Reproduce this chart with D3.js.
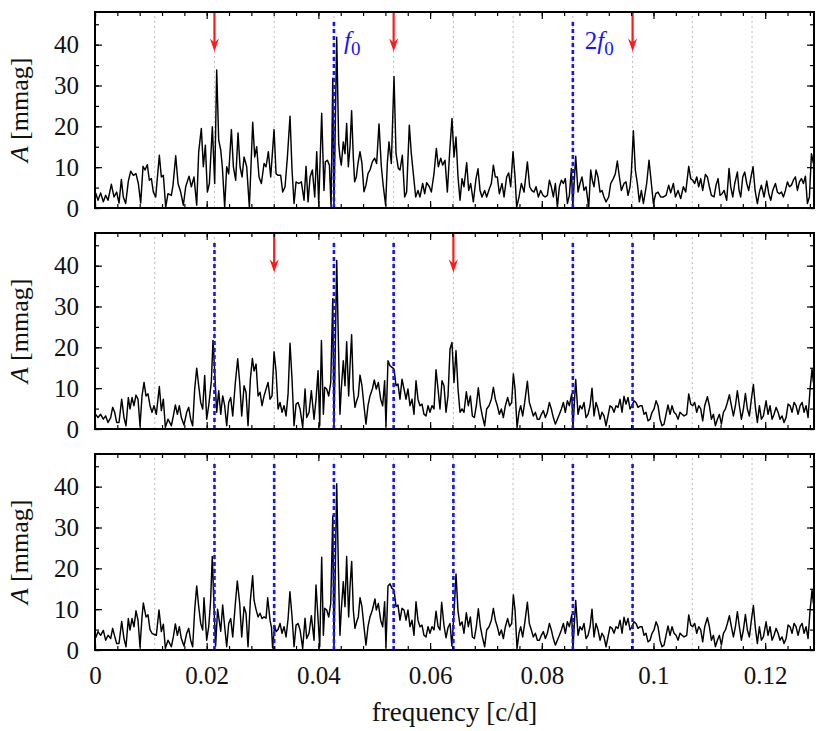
<!DOCTYPE html>
<html><head><meta charset="utf-8">
<script src="https://cdn.jsdelivr.net/npm/d3@7"></script>
<style>body{margin:0;background:#fff}</style>
</head><body>
<svg id="c" width="830" height="731"></svg>
<script>
// ---------- DATA ----------
const baseFreq = 0.010695;            // f0 / 4
const gridHarmonics = [1,2,3,4,5,6,7,8,9,10,11];
const blueHarmonics = [[4,8],[2,4,5,8,9],[2,3,4,5,6,8,9]];
const arrowHarmonics = [[2,5,9],[3,6],[]];
const xTickValues = [0,0.02,0.04,0.06,0.08,0.1,0.12];
const xTickLabels = ["0","0.02","0.04","0.06","0.08","0.1","0.12"];
const yTickValues = [0,10,20,30,40];
const yTickLabels = ["0","10","20","30","40"];

const panel1 = [
[0.00012,3.7],[0.00054,1.9],[0.00101,3.7],[0.00149,1.5],[0.00191,3.1],[0.00233,1.9],[0.00293,5.8],[0.0034,2.7],[0.00388,3.9],[0.0043,1.2],
[0.00472,7.0],[0.00507,2.7],[0.00549,1.1],[0.00597,6.6],[0.00639,9.0],[0.00687,8.0],[0.00734,8.4],[0.00776,6.0],[0.00818,1.2],[0.0086,10.2],
[0.00896,9.3],[0.00937,10.6],[0.00973,6.8],[0.01009,7.2],[0.01045,3.9],[0.01087,2.7],[0.01152,12.9],[0.01188,7.6],[0.01224,8.0],[0.01266,0.2],
[0.01307,3.5],[0.01367,3.1],[0.01397,5.6],[0.01445,12.8],[0.01487,6.0],[0.01534,3.9],[0.01582,0.7],[0.01624,5.2],[0.01684,7.8],[0.01725,5.2],
[0.01773,7.6],[0.01821,0.7],[0.01857,13.8],[0.01904,19.5],[0.0194,10.1],[0.01976,15.4],[0.02012,3.9],[0.02048,6.0],[0.02101,19.9],[0.02143,6.0],
[0.02179,33.8],[0.02215,16.6],[0.02251,14.2],[0.0228,10.1],[0.02322,0.2],[0.02358,10.1],[0.02394,8.4],[0.02442,19.2],[0.02478,10.1],[0.02519,6.8],
[0.02561,18.4],[0.02597,10.1],[0.02633,7.6],[0.02669,12.5],[0.02716,10.1],[0.02764,0.2],[0.02824,21.0],[0.0286,12.5],[0.02895,15.0],[0.02937,7.6],
[0.02979,6.0],[0.03027,10.9],[0.03063,10.1],[0.03104,13.8],[0.03146,7.6],[0.03206,19.2],[0.03242,8.4],[0.03278,8.0],[0.03325,8.0],[0.03361,3.9],
[0.03403,5.2],[0.03445,12.5],[0.03492,22.5],[0.03528,9.3],[0.03564,1.1],[0.036,6.4],[0.03648,6.0],[0.03695,6.4],[0.03743,1.9],[0.03779,10.2],
[0.03815,1.5],[0.03851,7.6],[0.03892,9.3],[0.03934,2.7],[0.0397,13.8],[0.04006,1.1],[0.04059,23.2],[0.041,4.3],[0.04124,11.3],[0.04161,11.7],
[0.04197,10.5],[0.04227,0.2],[0.04257,31.8],[0.04279,0.3],[0.04328,41.8],
[0.04363,15.8],[0.04386,12.5],[0.0441,10.5],[0.04446,16.2],[0.04476,13.3],[0.04506,20.7],[0.04536,10.1],[0.04566,15.0],[0.04595,23.8],[0.04625,12.5],
[0.04649,6.4],[0.04679,7.6],[0.04709,10.9],[0.04745,13.8],[0.0478,10.9],[0.04816,4.0],[0.04852,5.6],[0.04888,8.4],[0.04924,9.3],[0.04966,11.3],
[0.05007,12.2],[0.05043,10.9],[0.05085,20.6],[0.05127,10.1],[0.05163,5.2],[0.05204,0.7],[0.05234,10.9],[0.05264,16.2],[0.05306,10.9],[0.05354,32.2],
[0.0539,13.3],[0.05431,9.7],[0.05461,9.3],[0.05503,12.9],[0.05545,2.7],[0.0558,3.9],[0.05628,20.3],[0.05664,13.3],[0.057,8.4],[0.05742,2.7],
[0.05783,4.3],[0.05819,2.7],[0.05867,6.0],[0.05903,3.5],[0.05939,6.2],[0.05987,5.2],[0.06022,3.9],[0.0607,8.4],[0.06112,14.6],[0.06148,10.1],
[0.0619,12.2],[0.06225,10.5],[0.06267,11.7],[0.06309,3.9],[0.06351,13.8],[0.06392,21.9],[0.06428,12.5],[0.06464,17.4],[0.065,7.6],[0.06536,1.9],
[0.06572,7.2],[0.06607,5.2],[0.06655,11.1],[0.06691,4.3],[0.06727,6.0],[0.06774,1.5],[0.06822,7.2],[0.06858,9.6],[0.06894,4.3],[0.0693,2.7],
[0.06977,4.3],[0.07013,2.7],[0.07061,4.7],[0.07097,6.0],[0.07133,10.5],[0.07168,7.6],[0.07204,7.6],[0.0724,3.5],[0.07288,6.0],[0.07324,2.7],
[0.07371,7.6],[0.07407,8.6],[0.07443,5.2],[0.07485,13.8],[0.07521,7.6],[0.0755,0.2],[0.07592,2.7],[0.07634,6.0],[0.07682,3.9],[0.07712,7.6],
[0.07742,11.3],[0.07783,5.2],[0.07819,4.3],[0.07861,3.9],[0.07897,5.2],[0.07939,2.7],[0.0798,4.3],[0.08022,3.1],[0.0806,2.7],[0.081,3.1],
[0.08136,6.8],[0.08171,5.2],[0.08207,2.7],[0.08243,6.0],[0.08279,0.2],[0.08315,5.2],[0.08351,6.8],[0.08386,6.0],[0.08422,7.2],[0.08458,1.1],
[0.08494,3.1],[0.0853,9.7],[0.08555,0.3],
[0.08607,12.7],[0.08649,3.9],[0.08684,6.0],[0.0872,7.6],[0.08756,4.3],[0.08792,5.2],[0.0884,0.2],[0.08876,9.3],[0.08905,6.8],[0.08935,5.2],
[0.08971,9.3],[0.09007,7.6],[0.09043,3.9],[0.09078,4.3],[0.09114,2.7],[0.0915,1.5],[0.09198,2.7],[0.09234,6.0],[0.09281,7.2],[0.09317,8.4],
[0.09353,11.5],[0.09389,7.6],[0.09425,4.3],[0.09472,6.0],[0.09508,6.4],[0.09544,3.1],[0.0958,5.2],[0.09604,8.8],[0.0964,18.9],[0.09675,9.3],
[0.09711,6.0],[0.09747,1.5],[0.09783,4.3],[0.09819,1.1],[0.09878,6.0],[0.0992,11.7],[0.09962,6.0],[0.09998,1.1],[0.1004,3.5],[0.10081,3.9],
[0.10129,2.7],[0.10177,2.7],[0.10225,3.1],[0.10272,5.6],[0.10308,3.7],[0.10356,6.0],[0.10392,2.7],[0.1044,4.3],[0.10487,2.3],[0.10535,5.2],
[0.10577,3.9],[0.10631,10.2],[0.10667,7.2],[0.10702,6.8],[0.10738,6.0],[0.10774,7.6],[0.1081,5.2],[0.10846,7.2],[0.10881,4.3],[0.10929,8.2],
[0.10965,7.6],[0.11001,5.2],[0.11037,3.1],[0.11084,2.7],[0.1112,5.6],[0.11156,7.2],[0.11192,3.1],[0.11228,3.5],[0.11264,4.3],[0.11311,1.9],
[0.11353,9.7],[0.11383,5.2],[0.11419,2.7],[0.11455,6.0],[0.11502,8.8],[0.11532,4.3],[0.11562,2.7],[0.11598,7.6],[0.11634,8.8],[0.1167,6.0],
[0.11705,4.3],[0.11741,7.2],[0.11783,10.1],[0.11819,4.3],[0.1186,1.1],[0.11896,3.9],[0.11932,5.6],[0.1198,2.7],[0.12028,6.6],[0.12064,3.5],
[0.121,1.9],[0.12135,4.3],[0.12183,6.0],[0.12219,3.9],[0.12255,3.5],[0.12291,3.9],[0.12326,2.7],[0.12362,4.3],[0.12398,6.4],[0.12434,5.2],
[0.1247,5.6],[0.12505,6.8],[0.12541,7.6],[0.12577,4.3],[0.12613,6.4],[0.12649,7.2],[0.12684,6.0],[0.1272,7.8],[0.12756,1.1],[0.12792,2.7],
[0.12828,13.3],[0.12864,10.9]
];

const panel2 = [
[0.00012,3.6],[0.00054,2.8],[0.00101,3.6],[0.00149,2.4],[0.00191,3.2],[0.00233,1.6],[0.00281,2.8],[0.00316,5.3],[0.00352,4.1],[0.00388,1.6],
[0.0043,1.6],[0.00478,7.3],[0.00519,2.8],[0.00555,0.8],[0.00597,7.7],[0.00627,4.9],[0.00663,7.7],[0.00698,5.7],[0.00734,8.3],[0.0077,7.3],
[0.00806,0.8],[0.00842,8.1],[0.00878,11.4],[0.00913,8.1],[0.00949,8.6],[0.00985,5.7],[0.01021,4.1],[0.01057,5.7],[0.01098,3.6],[0.01152,10.4],
[0.01188,4.5],[0.01224,7.3],[0.0126,0.4],[0.01307,2.4],[0.01367,0.8],[0.01403,3.2],[0.01439,5.9],[0.01475,3.6],[0.0151,5.7],[0.01546,2.8],
[0.01594,1.0],[0.01642,4.1],[0.01678,5.3],[0.01713,2.4],[0.01749,0.8],[0.01785,9.8],[0.01821,14.9],[0.01857,10.6],[0.01893,6.5],[0.01928,4.9],
[0.01964,13.1],[0.02,2.4],[0.02036,5.7],[0.02084,11.8],[0.02113,21.7],[0.02143,14.2],[0.02179,4.1],[0.02215,9.4],[0.02251,3.6],[0.02287,8.1],
[0.02322,5.7],[0.02358,0.8],[0.02394,6.5],[0.0243,7.7],[0.02466,3.2],[0.02513,11.4],[0.02555,17.2],[0.02591,11.4],[0.02627,3.2],[0.02669,10.6],
[0.02704,9.0],[0.0274,0.8],[0.02782,12.2],[0.02818,17.3],[0.02848,14.2],[0.02884,15.9],[0.0292,8.1],[0.02955,9.0],[0.02991,5.7],[0.03027,8.1],
[0.03063,9.8],[0.03099,11.4],[0.03134,7.3],[0.0317,8.1],[0.03206,18.9],[0.03242,14.2],[0.03278,4.9],[0.03313,6.5],[0.03349,4.1],[0.03385,5.7],
[0.03421,3.2],[0.03457,8.6],[0.03492,21.0],[0.03528,12.2],[0.03564,0.8],[0.036,6.1],[0.03636,6.5],[0.03672,4.9],[0.03719,0.4],[0.03761,9.8],
[0.03791,2.8],[0.03833,4.1],[0.03874,9.4],[0.03922,2.4],[0.03958,7.3],[0.03994,14.3],[0.04024,0.8],[0.04054,21.7],[0.04089,3.6],[0.04113,10.2],
[0.04149,9.8],[0.04185,8.1],[0.04221,11.4],[0.04257,31.9],[0.04279,0.3],[0.04328,41.3],
[0.04363,18.0],[0.04386,3.6],[0.0441,9.8],[0.04446,16.7],[0.04476,10.6],[0.04506,21.4],[0.04542,8.1],[0.04566,15.5],[0.04595,23.1],[0.04625,9.8],
[0.04655,5.3],[0.04685,6.9],[0.04715,8.1],[0.04745,13.2],[0.0478,10.6],[0.04816,5.7],[0.04852,1.2],[0.04888,5.7],[0.04924,8.1],[0.04966,9.8],
[0.05001,12.0],[0.05037,9.8],[0.05073,11.4],[0.05115,7.3],[0.05151,5.7],[0.05186,11.8],[0.0521,0.8],[0.05246,16.7],[0.05282,15.5],[0.05318,15.1],
[0.05354,14.7],[0.0539,10.6],[0.05425,11.0],[0.05461,7.3],[0.05497,12.2],[0.05533,9.8],[0.05569,7.3],[0.05604,9.8],[0.0564,5.7],[0.05676,7.3],
[0.05712,3.6],[0.05748,11.8],[0.05783,7.3],[0.05819,5.7],[0.05855,6.1],[0.05891,3.6],[0.05927,3.2],[0.05963,5.7],[0.05998,4.1],[0.06034,5.7],
[0.0607,4.9],[0.06106,14.5],[0.06142,9.8],[0.06177,4.9],[0.06213,11.8],[0.06249,10.6],[0.06285,4.1],[0.06321,8.1],[0.06357,19.6],[0.06392,21.2],
[0.06428,11.4],[0.06464,19.2],[0.065,9.8],[0.06536,4.1],[0.06572,4.9],[0.06607,4.1],[0.06649,9.1],[0.06685,5.7],[0.06721,8.1],[0.06757,3.2],
[0.06792,2.8],[0.06828,5.7],[0.06864,10.1],[0.069,5.7],[0.06936,3.2],[0.06977,0.8],[0.07013,4.9],[0.07055,5.7],[0.07097,7.3],[0.07133,10.2],
[0.07168,7.3],[0.07204,5.7],[0.0724,3.6],[0.07276,4.9],[0.07312,2.8],[0.07348,5.7],[0.07389,7.7],[0.07425,5.7],[0.07461,6.5],[0.07491,13.5],
[0.07521,9.8],[0.07557,0.4],[0.07592,4.1],[0.07622,5.7],[0.07658,3.2],[0.07694,6.5],[0.07742,11.7],[0.07777,6.5],[0.07813,4.9],[0.07849,3.2],
[0.07885,4.1],[0.07921,2.4],[0.07957,2.4],[0.07992,3.6],[0.08028,4.5],[0.08064,2.8],[0.081,4.1],[0.08136,6.5],[0.08171,4.9],[0.08207,2.8],
[0.08243,1.2],[0.08279,2.4],[0.08315,3.6],[0.08351,4.9],[0.08386,6.5],[0.08422,4.1],[0.08458,6.9],[0.08494,5.7],[0.08536,8.6],[0.08558,0.4],
[0.08607,12.1],[0.08649,3.6],[0.08684,5.7],[0.0872,4.9],[0.08756,6.5],[0.08792,2.8],[0.08828,3.6],[0.08864,5.7],[0.08899,10.0],[0.08935,3.2],
[0.08971,6.5],[0.09007,4.9],[0.09043,2.4],[0.09078,4.1],[0.09114,3.2],[0.0915,0.8],[0.09186,3.2],[0.09222,5.7],[0.09258,5.3],[0.09293,4.1],
[0.09329,5.7],[0.09365,5.3],[0.09401,7.3],[0.09437,4.1],[0.09472,8.0],[0.09508,6.1],[0.09544,7.7],[0.0958,4.9],[0.09616,5.7],[0.09652,6.9],
[0.09687,6.5],[0.09723,5.3],[0.09759,5.7],[0.09795,5.7],[0.09831,3.6],[0.09866,4.1],[0.09902,2.0],[0.09938,2.4],[0.09974,4.1],[0.1001,4.9],
[0.10046,6.9],[0.10081,5.7],[0.10117,2.4],[0.10153,0.8],[0.10189,1.2],[0.10225,3.6],[0.1026,5.9],[0.10296,3.6],[0.10332,5.7],[0.10368,4.1],
[0.10404,3.6],[0.1044,2.4],[0.10475,4.1],[0.10511,3.6],[0.10547,3.2],[0.10595,3.6],[0.10631,8.6],[0.10667,6.1],[0.10702,5.7],[0.10738,6.5],
[0.10774,4.1],[0.1081,5.7],[0.10846,4.9],[0.10881,2.0],[0.10917,5.7],[0.10965,7.9],[0.11001,5.7],[0.11037,2.4],[0.11073,3.6],[0.11108,0.8],
[0.11144,2.4],[0.1118,3.6],[0.11216,1.2],[0.11252,4.1],[0.11288,4.9],[0.11323,6.5],[0.11359,8.4],[0.11395,5.7],[0.11431,3.2],[0.11467,5.7],
[0.11502,9.4],[0.11538,5.7],[0.11574,2.4],[0.1161,4.9],[0.11646,8.7],[0.11681,4.9],[0.11717,3.2],[0.11753,7.3],[0.11789,10.9],[0.11825,5.3],
[0.1186,1.6],[0.11896,5.7],[0.11932,2.4],[0.11968,3.2],[0.12016,6.9],[0.12051,3.6],[0.12087,5.7],[0.12123,2.4],[0.12159,3.6],[0.12195,5.3],
[0.12231,4.1],[0.12266,2.4],[0.12302,3.2],[0.12338,1.6],[0.12374,2.8],[0.1241,6.1],[0.12446,5.7],[0.12481,4.1],[0.12517,6.5],[0.12553,5.7],
[0.12589,3.6],[0.12625,5.7],[0.12661,6.5],[0.12696,4.1],[0.12732,5.7],[0.12768,2.8],[0.12804,9.8],[0.12839,14.7],[0.12863,11.4]
];

const panel3 = [
[0.00012,3.0],[0.00054,4.5],[0.00101,3.6],[0.00149,4.8],[0.00191,2.4],[0.00233,3.6],[0.00281,2.8],[0.00316,5.3],[0.00352,3.4],[0.00388,1.6],
[0.0043,1.6],[0.00478,7.0],[0.00519,2.8],[0.00555,0.8],[0.00597,7.7],[0.00627,4.9],[0.00663,7.7],[0.00698,5.7],[0.00734,9.6],[0.0077,7.3],
[0.00806,0.8],[0.00842,8.1],[0.00866,11.5],[0.00913,8.1],[0.00949,8.6],[0.00985,5.0],[0.01021,4.1],[0.01057,3.8],[0.01098,3.6],[0.01146,9.8],
[0.01188,4.5],[0.01224,6.3],[0.0126,0.4],[0.01307,2.4],[0.01367,0.8],[0.01403,3.2],[0.01439,6.4],[0.01475,3.6],[0.0151,5.7],[0.01546,2.8],
[0.01594,1.0],[0.01642,4.1],[0.01678,5.3],[0.01713,2.4],[0.01749,0.8],[0.01785,9.8],[0.01821,15.7],[0.01857,10.6],[0.01893,6.5],[0.01928,4.9],
[0.01952,12.8],[0.02,2.4],[0.02036,5.7],[0.02069,11.8],[0.021,22.9],[0.02135,9.0],[0.0216,1.0],[0.02195,10.0],[0.02251,4.6],[0.02286,11.0],
[0.02322,5.7],[0.02358,0.8],[0.02394,6.5],[0.0243,7.7],[0.02466,3.2],[0.02513,11.4],[0.02548,16.9],[0.02591,11.4],[0.02627,3.2],[0.02669,10.6],
[0.02704,9.0],[0.0274,0.8],[0.02782,12.2],[0.02823,18.2],[0.02848,12.2],[0.02884,9.9],[0.0292,8.1],[0.02955,9.0],[0.02991,7.7],[0.03027,8.1],
[0.03063,7.8],[0.03092,12.8],[0.03134,7.3],[0.0316,5.5],[0.0318,0.5],[0.03215,6.0],[0.03242,4.5],[0.03278,5.0],[0.03313,6.5],[0.03349,4.1],
[0.03385,5.7],[0.03421,3.2],[0.03457,7.6],[0.0349,14.3],[0.03528,8.2],[0.03564,0.8],[0.036,6.1],[0.03636,6.5],[0.03672,4.9],[0.03719,0.4],
[0.03761,7.8],[0.03791,2.8],[0.03833,4.1],[0.03874,8.4],[0.03922,2.4],[0.03957,15.9],[0.04024,0.8],[0.04059,22.7],[0.04089,3.6],[0.04113,10.2],
[0.04149,9.8],[0.04185,8.1],[0.04221,11.4],[0.04257,32.8],[0.04279,0.3],[0.04328,40.7],
[0.04363,17.0],[0.04386,3.6],[0.0441,9.8],[0.04446,16.7],[0.04476,10.6],[0.04506,22.9],[0.04542,8.1],[0.04566,15.5],[0.04596,21.7],[0.04625,9.8],
[0.04655,5.3],[0.04685,6.9],[0.04715,8.1],[0.04745,12.8],[0.0478,10.6],[0.04816,5.7],[0.04852,1.2],[0.04888,5.7],[0.04924,8.1],[0.04966,9.8],
[0.05013,12.5],[0.05037,9.8],[0.05073,11.4],[0.05115,7.3],[0.05151,5.7],[0.05186,11.8],[0.0521,0.8],[0.05246,15.7],[0.05282,16.2],[0.05318,15.1],
[0.05354,14.7],[0.0539,10.6],[0.05425,11.0],[0.05461,7.3],[0.05497,10.2],[0.05533,9.8],[0.05569,7.3],[0.05604,9.8],[0.0564,5.7],[0.05676,7.3],
[0.05712,3.6],[0.05748,11.8],[0.05783,7.3],[0.05819,5.7],[0.05855,6.1],[0.05891,3.6],[0.05927,3.2],[0.05963,5.7],[0.05998,4.1],[0.06034,5.7],
[0.0607,4.9],[0.06106,9.5],[0.06142,5.8],[0.06177,4.9],[0.06207,11.7],[0.06249,6.0],[0.06285,3.0],[0.06321,5.5],[0.06357,6.5],[0.0639,1.0],
[0.06428,9.0],[0.06464,18.6],[0.065,9.5],[0.06536,6.0],[0.06572,6.9],[0.06607,4.1],[0.06649,9.1],[0.06685,5.7],[0.06721,8.1],[0.06757,3.2],
[0.06792,2.8],[0.06828,5.7],[0.06864,10.1],[0.069,5.7],[0.06936,3.2],[0.06977,0.8],[0.07013,4.9],[0.07055,5.7],[0.07097,7.3],[0.07133,10.2],
[0.07168,7.3],[0.07204,5.7],[0.0724,3.6],[0.07276,4.9],[0.07312,2.8],[0.07348,5.7],[0.07389,7.7],[0.07425,5.7],[0.07461,6.5],[0.07491,13.5],
[0.07521,9.8],[0.07557,0.4],[0.07592,4.1],[0.07622,5.7],[0.07658,3.2],[0.07694,6.5],[0.07742,11.7],[0.07777,6.5],[0.07813,4.9],[0.07849,3.2],
[0.07885,4.1],[0.07921,2.4],[0.07957,2.4],[0.07992,3.6],[0.08028,4.5],[0.08064,2.8],[0.081,4.1],[0.08136,6.5],[0.08171,4.9],[0.08207,2.8],
[0.08243,1.2],[0.08279,2.4],[0.08315,3.6],[0.08351,4.9],[0.08386,6.5],[0.08422,4.1],[0.08458,6.9],[0.08494,5.7],[0.08536,8.6],[0.08558,0.4],
[0.08607,12.1],[0.08649,3.6],[0.08684,5.7],[0.0872,4.9],[0.08756,6.5],[0.08792,2.8],[0.08828,3.6],[0.08864,5.7],[0.08899,10.0],[0.08935,3.2],
[0.08971,6.5],[0.09007,4.9],[0.09043,2.4],[0.09078,4.1],[0.09114,3.2],[0.0915,0.8],[0.09186,3.2],[0.09222,5.7],[0.09258,5.3],[0.09293,4.1],
[0.09329,5.7],[0.09365,5.3],[0.09401,7.3],[0.09437,4.1],[0.09472,8.0],[0.09508,6.1],[0.09544,7.7],[0.0958,4.9],[0.09616,5.7],[0.09652,6.9],
[0.09687,6.5],[0.09723,5.3],[0.09759,5.7],[0.09795,5.7],[0.09831,3.6],[0.09866,4.1],[0.09902,2.0],[0.09938,2.4],[0.09974,4.1],[0.1001,4.9],
[0.10046,6.9],[0.10081,5.7],[0.10117,2.4],[0.10153,0.8],[0.10189,1.2],[0.10225,3.6],[0.1026,5.9],[0.10296,3.6],[0.10332,5.7],[0.10368,4.1],
[0.10404,3.6],[0.1044,2.4],[0.10475,4.1],[0.10511,3.6],[0.10547,3.2],[0.10595,3.6],[0.10631,8.6],[0.10667,6.1],[0.10702,5.7],[0.10738,6.5],
[0.10774,4.1],[0.1081,5.7],[0.10846,4.9],[0.10881,2.0],[0.10917,5.7],[0.10965,7.9],[0.11001,5.7],[0.11037,2.4],[0.11073,3.6],[0.11108,0.8],
[0.11144,2.4],[0.1118,3.6],[0.11216,1.2],[0.11252,4.1],[0.11288,4.9],[0.11323,6.5],[0.11359,8.4],[0.11395,5.7],[0.11431,3.2],[0.11467,5.7],
[0.11502,9.4],[0.11538,5.7],[0.11574,2.4],[0.1161,4.9],[0.11646,8.7],[0.11681,4.9],[0.11717,3.2],[0.11753,7.3],[0.11789,10.9],[0.11825,5.3],
[0.1186,1.6],[0.11896,5.7],[0.11932,2.4],[0.11968,3.2],[0.12016,6.9],[0.12051,3.6],[0.12087,5.7],[0.12123,2.4],[0.12159,3.6],[0.12195,5.3],
[0.12231,4.1],[0.12266,2.4],[0.12302,3.2],[0.12338,1.6],[0.12374,2.8],[0.1241,6.1],[0.12446,5.7],[0.12481,4.1],[0.12517,6.5],[0.12553,5.7],
[0.12589,3.6],[0.12625,5.7],[0.12661,6.5],[0.12696,4.1],[0.12732,5.7],[0.12768,2.8],[0.12804,9.8],[0.12839,14.7],[0.12863,11.4]
];
const panels = [panel1, panel2, panel3];

// ---------- LAYOUT ----------
const plotLeft = 95, plotRight = 814;
const panelTops = [12, 233, 454];
const panelH = 196;
const FONT = "'Liberation Serif','DejaVu Serif',serif";

const svg = d3.select("#c");
const x = d3.scaleLinear().domain([0, 0.12874]).range([plotLeft, plotRight]);
const xMinor = d3.range(0, 0.1287, 0.004);
const yMinor = d3.range(0, 48, 5);

panels.forEach((data, i) => {
  const top = panelTops[i], bottom = top + panelH;
  const y = d3.scaleLinear().domain([0, 48]).range([bottom, top]);
  const g = svg.append("g");

  // gray dotted harmonic grid
  g.selectAll(".grid").data(gridHarmonics).join("line")
    .attr("x1", k => x(k*baseFreq)).attr("x2", k => x(k*baseFreq))
    .attr("y1", y(0)).attr("y2", y(48))
    .attr("stroke", "#bdbdbd").attr("stroke-width", 1).attr("stroke-dasharray", "2,3");

  // amplitude spectrum
  const line = d3.line().x(d => x(d[0])).y(d => y(d[1]));
  g.append("path").datum(data).attr("d", line)
    .attr("fill", "none").attr("stroke", "#000").attr("stroke-width", 1.45)
    .attr("stroke-linejoin", "round");

  // blue dashed lines
  g.selectAll(".blue").data(blueHarmonics[i]).join("line")
    .attr("x1", k => x(k*baseFreq)).attr("x2", k => x(k*baseFreq))
    .attr("y1", y(0)).attr("y2", y(46.3))
    .attr("stroke", "#1414ff").attr("stroke-width", 2.6).attr("stroke-dasharray", "4,3");

  // red arrows
  arrowHarmonics[i].forEach(k => {
    const ax = x(k*baseFreq);
    g.append("line").attr("x1", ax).attr("x2", ax).attr("y1", y(48)).attr("y2", y(40.5))
      .attr("stroke", "#ff1a1a").attr("stroke-width", 2.2);
    const tip = y(38.3);
    g.append("path").attr("d", `M${ax},${tip} L${ax-4.5},${tip-13} L${ax},${tip-9} L${ax+4.5},${tip-13} Z`)
      .attr("fill", "#ff1a1a");
  });

  // axes (ticks inward, mirrored)
  const styleAxis = sel => { sel.select(".domain").remove(); sel.selectAll("line").attr("stroke", "#000").attr("stroke-width", 1.2); };
  const bottomMinor = d3.axisBottom(x).tickValues(xMinor).tickSize(-4).tickFormat("");
  const bottomMajor = d3.axisBottom(x).tickValues(xTickValues).tickSize(-7).tickPadding(16)
    .tickFormat((d, j) => i === 2 ? xTickLabels[j] : "");
  const topMinor = d3.axisTop(x).tickValues(xMinor).tickSize(-4).tickFormat("");
  const topMajor = d3.axisTop(x).tickValues(xTickValues).tickSize(-7).tickFormat("");
  g.append("g").attr("transform", `translate(0,${bottom})`).call(bottomMinor).call(styleAxis);
  const bx = g.append("g").attr("transform", `translate(0,${bottom})`).call(bottomMajor).call(styleAxis);
  bx.selectAll("text").attr("font-family", FONT).attr("font-size", 25).attr("fill", "#111");
  g.append("g").attr("transform", `translate(0,${top})`).call(topMinor).call(styleAxis);
  g.append("g").attr("transform", `translate(0,${top})`).call(topMajor).call(styleAxis);

  const leftMinor = d3.axisLeft(y).tickValues(yMinor).tickSize(-4).tickFormat("");
  const leftMajor = d3.axisLeft(y).tickValues(yTickValues).tickSize(-7).tickPadding(16)
    .tickFormat((d, j) => yTickLabels[j]);
  const rightMinor = d3.axisRight(y).tickValues(yMinor).tickSize(-4).tickFormat("");
  const rightMajor = d3.axisRight(y).tickValues(yTickValues).tickSize(-7).tickFormat("");
  g.append("g").attr("transform", `translate(${plotLeft},0)`).call(leftMinor).call(styleAxis);
  const ly = g.append("g").attr("transform", `translate(${plotLeft},0)`).call(leftMajor).call(styleAxis);
  ly.selectAll("text").attr("font-family", FONT).attr("font-size", 25).attr("fill", "#111");
  g.append("g").attr("transform", `translate(${plotRight},0)`).call(rightMinor).call(styleAxis);
  g.append("g").attr("transform", `translate(${plotRight},0)`).call(rightMajor).call(styleAxis);

  // frame
  g.append("rect").attr("x", plotLeft).attr("y", top).attr("width", plotRight - plotLeft).attr("height", panelH)
    .attr("fill", "none").attr("stroke", "#000").attr("stroke-width", 2);

  // y label
  const yl = g.append("text").attr("transform", `translate(28,${(top+bottom)/2}) rotate(-90)`)
    .attr("text-anchor", "middle").attr("font-family", FONT).attr("font-size", 26).attr("fill", "#111");
  yl.append("tspan").attr("font-style", "italic").text("A");
  yl.append("tspan").text(" [mmag]");
});

// annotations in top panel
const t1 = svg.append("text").attr("x", x(4*baseFreq) + 10).attr("y", 49)
  .attr("font-family", FONT).attr("font-size", 25).attr("fill", "#1414ff");
t1.append("tspan").attr("font-style", "italic").text("f");
t1.append("tspan").attr("font-size", 19).attr("dy", 6).attr("dx", 0).text("0");
const t2 = svg.append("text").attr("x", x(8*baseFreq) + 12).attr("y", 49)
  .attr("font-family", FONT).attr("font-size", 25).attr("fill", "#1414ff");
t2.append("tspan").text("2");
t2.append("tspan").attr("font-style", "italic").text("f");
t2.append("tspan").attr("font-size", 19).attr("dy", 6).attr("dx", 0).text("0");

// x axis label
svg.append("text").attr("x", (plotLeft + plotRight)/2).attr("y", 721).attr("text-anchor", "middle")
  .attr("font-family", FONT).attr("font-size", 27).attr("fill", "#111").text("frequency [c/d]");
</script>
</body></html>
